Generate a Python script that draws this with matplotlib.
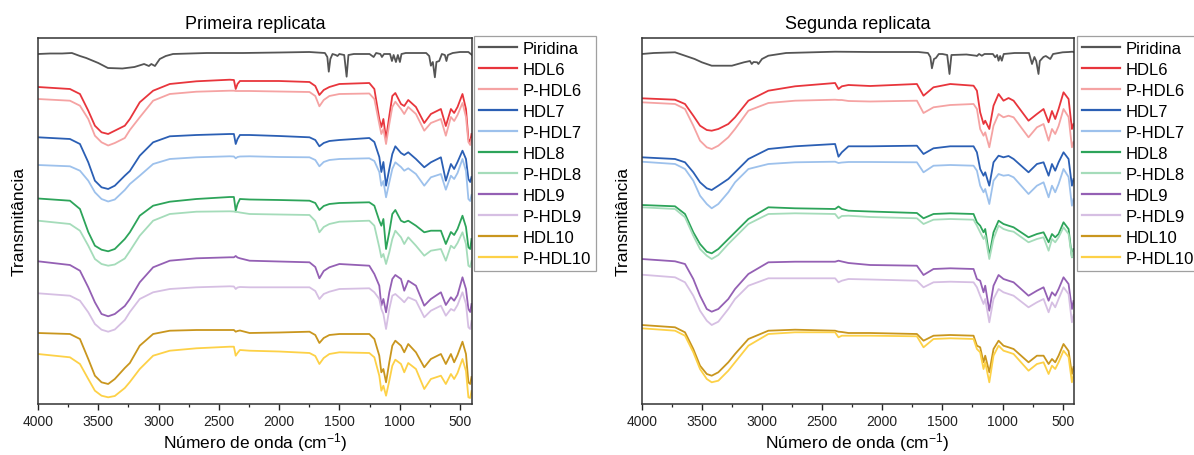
import matplotlib
matplotlib.use("Agg")
import matplotlib.pyplot as plt
from matplotlib.ticker import MultipleLocator

plt.rcParams["font.family"] = ["Liberation Sans", "DejaVu Sans"]
plt.rcParams["mathtext.default"] = "regular"

# ---------------- first replicate ----------------
wn_pyr_1 = [4000, 3900, 3800, 3719, 3652, 3600, 3500, 3420, 3300, 3200,
            3120, 3080, 3060, 3030, 2990, 2940, 2880, 2600, 2300, 2000,
            1750, 1620, 1600, 1588, 1575, 1557, 1530, 1516, 1500, 1460,
            1440, 1425, 1380, 1250, 1216, 1195, 1160, 1147, 1130, 1080,
            1064, 1050, 1031, 1015, 998, 985, 950, 880, 780, 755,
            741, 725, 708, 695, 672, 650, 625, 612, 600, 560,
            500, 430, 410, 400]
piridina_1 = [350, 350.5, 350.5, 351, 348, 346, 341, 336, 335.5, 337,
              340, 338, 340, 338, 345, 348, 350, 351, 351, 351.5,
              352, 351, 347, 332.3, 345, 350, 349, 348, 350, 349,
              327.3, 349, 350, 350, 347, 351, 350, 347, 350, 350,
              343, 349, 342, 349, 342, 350, 351, 351, 351, 348,
              338.3, 342, 326.7, 342, 343, 350, 349, 343, 349, 351,
              352, 352, 350, 349]

wn_1 = [4000, 3735, 3652, 3583, 3528, 3473, 3418, 3363, 3280, 3238,
        3156, 3045, 2907, 2686, 2410, 2375, 2360, 2345, 2325, 2245,
        2000, 1748, 1700, 1666, 1630, 1583, 1500, 1252, 1210, 1169,
        1152, 1135, 1113, 1086, 1061, 1036, 989, 962, 929, 865,
        796, 741, 658, 617, 575, 548, 520, 479, 450, 430,
        415, 404]

hdl6_1 = [317, 315, 310, 293.3, 278.3, 271.7, 270, 273.3, 278.3, 285,
          301.7, 313.3, 320, 322.7, 324.3, 324, 315, 320, 323, 323,
          323, 322, 318, 309, 314, 317, 320, 321, 315, 285,
          277, 285, 265, 288, 308, 311, 300, 298, 304, 297,
          281, 290, 295, 278, 295, 291, 297, 310, 295, 265,
          262, 270]
p_hdl6_1 = [305, 303.3, 298.3, 285, 268.3, 261.7, 258.5, 261, 266, 274,
            286.7, 303.3, 310, 312.3, 313.3, 313.3, 313, 313, 313, 313,
            312.5, 312, 308, 297.7, 304, 308, 310, 310.5, 305, 280,
            270, 275, 260, 280, 297, 302.3, 295, 290, 297, 290,
            273.3, 281, 285, 268.3, 287, 283, 289, 301, 287, 262,
            259, 265]
hdl7_1 = [266.7, 265, 260, 241.7, 223.3, 216.7, 215, 218.3, 228.3, 233,
          248.3, 261.7, 267.7, 269, 270, 270, 260, 265, 269, 269,
          268, 266.7, 264, 257.7, 261, 263, 264, 266, 262, 247,
          232, 242, 218.3, 235, 250, 257.7, 251, 249, 251.7, 245,
          236.7, 241.7, 246.7, 223.3, 240, 235, 242, 253.3, 245, 225,
          222, 227]
p_hdl7_1 = [239, 237.7, 233.3, 223.3, 211.7, 205, 202.5, 204.5, 214, 220,
            228.3, 240, 245, 246.7, 247.7, 247.5, 245.7, 247, 247.5, 247.7,
            247, 246.7, 244, 237.7, 242, 244, 245, 245.7, 243, 232,
            218.3, 223, 206.7, 221.7, 235, 241.7, 237, 233.3, 235.7, 230,
            218.3, 226.7, 230, 214.3, 228.3, 225, 231, 245, 233, 205,
            203, 209]
hdl8_1 = [205.5, 203.3, 195, 172, 158.3, 154.3, 152.7, 155, 165, 171.7,
          188.3, 198.3, 202.3, 205, 207, 207, 193.3, 200, 205, 204.5,
          204, 203.3, 201, 194, 198, 200, 201, 201.7, 198.3, 183.3,
          178.3, 185, 155, 172, 190, 194, 183.3, 181.7, 183.3, 178.3,
          171.7, 173.3, 173.3, 160, 172, 169, 175, 188.3, 177, 156.7,
          155, 165]
p_hdl8_1 = [183.3, 180, 173.3, 158.3, 145, 140, 138.3, 139.5, 145.5, 153,
            168.3, 183.3, 190, 192.3, 192.7, 192.5, 192, 192, 191.5, 190,
            189.5, 189, 183, 171.7, 177, 180, 182.3, 183.3, 178.3, 156.7,
            146.7, 150, 140, 151.7, 165, 173.3, 166.7, 160, 166.7, 158.3,
            148.3, 153.3, 155, 143.3, 158.3, 155.7, 161, 171.7, 160, 138.3,
            137, 143]
hdl9_1 = [142.7, 139, 133.3, 116.7, 101.7, 90, 87.7, 90, 98, 105,
          121.7, 136.7, 143.3, 145.7, 146.7, 146.7, 148, 146.5, 145.7, 143.3,
          142.5, 141.7, 137, 125.7, 133, 136.7, 140, 138.3, 130, 118.3,
          98.3, 105, 91.7, 111.7, 125, 129, 125, 113.3, 123.3, 118.3,
          98.3, 105, 111.7, 99, 106.7, 103.3, 109, 126.7, 115, 95,
          92, 100]
p_hdl9_1 = [110.7, 108.3, 103.3, 91.7, 80, 74.3, 72.3, 74.5, 84, 92,
            105, 111.7, 115, 116.7, 117.7, 117.5, 115, 116.5, 117, 116.7,
            116.7, 116.7, 113, 105, 110, 112.3, 115, 115.7, 111.7, 105,
            95, 90, 75, 95, 108.3, 110, 105, 101.7, 106.7, 103.3,
            86.7, 93.3, 98.3, 88.3, 95, 93.3, 99, 111.7, 100, 76.7,
            75, 83]
hdl10_1 = [71, 70, 65, 45, 28.3, 21.7, 20, 25, 36, 41,
           58.3, 70, 73.3, 74, 74, 74, 72.3, 73, 73.5, 71,
           71.5, 72.3, 69, 61, 66, 69, 70, 70, 65, 48.3,
           31.7, 35, 21.7, 41.7, 58.3, 63.3, 58.3, 51.7, 60, 51.7,
           36.7, 45, 50, 40, 50, 41.7, 49, 62.3, 50, 21.7,
           20, 27]
p_hdl10_1 = [50, 46.7, 40, 25, 13.3, 8.3, 6.7, 8, 16, 22,
             35, 48.3, 53.3, 55.7, 57.3, 57.3, 48.3, 51, 54, 53.3,
             52.5, 51, 48, 40, 46, 50, 51.7, 51, 46.7, 28.3,
             13.3, 18.3, 8.3, 23.3, 38.3, 44.3, 40, 31.7, 41, 35,
             15, 25, 28.3, 20, 30, 25, 31, 45, 33, 6.7,
             6, 13]

# ---------------- second replicate ----------------
wn_pyr_2 = [4000, 3900, 3723, 3640, 3560, 3500, 3418, 3250, 3150, 3100,
            3085, 3070, 3040, 3030, 3000, 2947, 2800, 2392, 2100, 1700,
            1620, 1600, 1587, 1570, 1554, 1530, 1500, 1460, 1441, 1425,
            1300, 1220, 1213, 1195, 1172, 1150, 1080, 1061, 1045, 1033,
            1020, 1006, 990, 900, 780, 755, 735, 720, 701, 690,
            660, 640, 603, 580, 500, 450, 420, 410]
piridina_2 = [350, 351, 351.7, 348.3, 345, 341.7, 338.3, 338.3, 341.7, 343,
              340, 342, 341.7, 340, 345, 348.3, 351, 352.3, 352, 352,
              351, 347, 335.7, 345, 346, 350, 350, 349, 330, 349,
              349.5, 348.3, 348, 350, 348.3, 350, 350, 346.7, 349, 343.3,
              348, 343.3, 350, 351, 351, 340, 347, 343, 330, 343,
              347, 348, 345, 350, 351.7, 352, 352.3, 352]

wn_2 = [4000, 3723, 3640, 3571, 3515, 3459, 3418, 3363, 3280, 3224,
        3113, 2947, 2725, 2392, 2364, 2336, 2281, 2101, 1712, 1657,
        1574, 1435, 1241, 1213, 1186, 1158, 1144, 1110, 1075, 1033,
        992, 950, 908, 784, 714, 659, 617, 589, 562, 534,
        493, 451, 423, 410]

hdl6_2 = [305.7, 304.3, 300, 288.3, 278.3, 274, 273.3, 275, 280, 286.7,
          303.3, 313.3, 317.7, 321, 315, 317.7, 319, 318, 320, 308.3,
          316.7, 320, 318.3, 313.3, 291.7, 280, 283.3, 275, 298.3, 310,
          303.3, 306, 303.3, 283.3, 290, 295, 281.7, 293, 285, 295,
          311.7, 305, 275, 280]
p_hdl6_2 = [301.7, 300, 295, 278.3, 263.3, 256.7, 255, 258.3, 266.7, 275,
            293.3, 301, 303.3, 304.3, 304, 304, 303, 302.5, 303.3, 291,
            296.7, 299, 300, 295, 275, 268.3, 271.7, 256.7, 278.3, 290,
            286.7, 288.3, 286.7, 266.7, 276.7, 280, 263.3, 275, 270, 278,
            295, 287, 256.7, 262]
hdl7_2 = [246.7, 245, 241.7, 231.7, 221.7, 215.7, 214, 218.3, 225, 231.7,
          245, 255, 257.7, 260, 247.3, 251.7, 257.7, 257.7, 258.3, 250,
          255.7, 257.7, 257.7, 251.7, 235, 228.3, 231.7, 218.3, 241.7, 248.3,
          246.7, 248, 245, 231.7, 240, 241.7, 228.3, 240, 233.3, 241.7,
          251.7, 245, 218.3, 225]
p_hdl7_2 = [242.3, 240, 235, 223.3, 208.3, 200, 195.7, 200, 211.7, 221.7,
            235, 240, 241.7, 242.3, 241, 241.5, 242, 242, 241.7, 231.7,
            238.3, 239, 238.3, 233.3, 218.3, 211.7, 215, 200, 223.3, 230,
            228.3, 229, 226.7, 210, 218.3, 221.7, 206.7, 218.3, 211.7, 220,
            235, 227, 198.3, 205]
hdl8_2 = [199, 197.7, 190, 171.7, 160, 152.3, 150.7, 155, 165, 171.7,
          185, 196.7, 195.7, 195, 197.5, 195, 193.3, 192.5, 191, 185.7,
          190, 190.7, 190, 181.7, 178.3, 171.7, 175, 148, 171.7, 183.3,
          180, 178.3, 176.7, 166.7, 170, 171.7, 161.7, 170, 166.7, 170,
          181.7, 175, 146.7, 155]
p_hdl8_2 = [196.7, 195, 186.7, 168.3, 155, 148.3, 145, 149, 160, 166.7,
            180, 190, 190.7, 190, 185.7, 188, 188.3, 187, 185.7, 180,
            184.3, 185, 184.3, 178.3, 171.7, 165, 168.3, 145, 165, 178.3,
            175, 173.3, 172.3, 161.7, 165, 166.7, 153.3, 165, 161.7, 166.7,
            176.7, 170, 146.7, 153]
hdl9_2 = [145, 142.7, 140, 125, 108.3, 95, 92.3, 95, 105, 115,
          130, 141.7, 142.3, 142.3, 143.3, 142.5, 141, 139, 138.3, 129,
          135, 135.7, 135, 125, 123.3, 111.7, 118.3, 93.3, 118.3, 129,
          125, 123.3, 121.7, 108.3, 113.3, 116.7, 103.3, 111.7, 108.3, 115,
          126.7, 120, 95, 103]
p_hdl9_2 = [129.3, 126.7, 121.7, 108.3, 93.3, 83.3, 79, 82.3, 95, 105,
            118.3, 125.7, 125.7, 125.7, 121.7, 123.3, 125, 124.5, 123.3, 116.7,
            121.7, 122.3, 121.7, 116.7, 108.3, 100, 105, 81.7, 105, 115,
            111.7, 110, 108.3, 96.7, 101.7, 105, 91.7, 101.7, 96.7, 105,
            116.7, 110, 81.7, 89]
hdl10_2 = [79, 76.7, 71.7, 55, 38.3, 30, 28.3, 31.7, 41.7, 50,
           65, 73.3, 74.3, 73.3, 72.3, 72, 71, 71, 70, 63.3,
           68.3, 69, 68.3, 58.3, 56.7, 41.7, 48.3, 31.7, 55, 63.3,
           58.3, 56.7, 55, 41.7, 48.3, 48.3, 40, 45, 41.7, 48.3,
           60, 53, 30, 37]
p_hdl10_2 = [75.7, 73.3, 68.3, 51.7, 35, 25, 21.7, 23.3, 33.3, 41.7,
             58.3, 70, 71.7, 71.7, 66.7, 68.3, 68.3, 68.3, 67.7, 56.7,
             65, 65.7, 65, 55, 51.7, 35, 41.7, 21.7, 48.3, 58.3,
             53.3, 51.7, 50, 33.3, 40, 41.7, 30, 38.3, 35, 41.7,
             53.3, 47, 21.7, 29]

labels = ["Piridina", "HDL6", "P-HDL6", "HDL7", "P-HDL7", "HDL8", "P-HDL8",
          "HDL9", "P-HDL9", "HDL10", "P-HDL10"]
colors = ["#555555", "#e8353c", "#f5a3a3", "#2b5fb4", "#9dc1ec",
          "#2da45a", "#a5dcba", "#9460b4", "#d6bfe3", "#c9961e", "#fdd147"]

panels = [
    ("Primeira replicata", 400,
     [(wn_pyr_1, piridina_1), (wn_1, hdl6_1), (wn_1, p_hdl6_1), (wn_1, hdl7_1),
      (wn_1, p_hdl7_1), (wn_1, hdl8_1), (wn_1, p_hdl8_1), (wn_1, hdl9_1),
      (wn_1, p_hdl9_1), (wn_1, hdl10_1), (wn_1, p_hdl10_1)]),
    ("Segunda replicata", 410,
     [(wn_pyr_2, piridina_2), (wn_2, hdl6_2), (wn_2, p_hdl6_2), (wn_2, hdl7_2),
      (wn_2, p_hdl7_2), (wn_2, hdl8_2), (wn_2, p_hdl8_2), (wn_2, hdl9_2),
      (wn_2, p_hdl9_2), (wn_2, hdl10_2), (wn_2, p_hdl10_2)]),
]

W, H = 1194, 456
fig = plt.figure(figsize=(W / 100, H / 100), dpi=100)
ax_boxes = [(38, 39, 472, 405), (641.7, 39, 1073.5, 405)]
legend_x = [474, 1077]

for (title, xmin, series), (x0, y0, x1, y1), lx in zip(panels, ax_boxes, legend_x):
    ax = fig.add_axes([x0 / W, 1 - y1 / H, (x1 - x0) / W, (y1 - y0) / H])
    for (wn, vals), lab, col in zip(series, labels, colors):
        ax.plot(wn, vals, color=col, lw=1.3, label=lab, solid_joinstyle="round")
    ax.set_xlim(4000, xmin)
    ax.set_ylim(0, 366)
    ax.xaxis.set_major_locator(MultipleLocator(500))
    ax.xaxis.set_minor_locator(MultipleLocator(250))
    ax.tick_params(axis="x", which="major", direction="out", length=4,
                   width=1, labelsize=10, pad=3, colors="#222222")
    ax.tick_params(axis="x", which="minor", direction="out", length=2.5,
                   width=0.9, colors="#222222")
    ax.tick_params(axis="y", left=False, labelleft=False)
    for sp in ax.spines.values():
        sp.set_color("#333333")
        sp.set_linewidth(1.1)
    ax.set_title(title, fontsize=13, pad=7)
    ax.set_xlabel("Número de onda (cm$^{-1}$)", fontsize=12.5, labelpad=1.5)
    ax.set_ylabel("Transmitância", fontsize=12.5, labelpad=8)
    leg = fig.legend(*ax.get_legend_handles_labels(), loc="upper left",
                     bbox_to_anchor=(lx / W, 1 - 37 / H), fontsize=12,
                     frameon=True, fancybox=False, handlelength=2.3,
                     handletextpad=0.3, labelspacing=0.36, borderpad=0.3,
                     borderaxespad=0)
    leg.get_frame().set_edgecolor("#888888")
    leg.get_frame().set_linewidth(0.9)
    for line in leg.get_lines():
        line.set_linewidth(1.6)

fig.savefig("out.png", dpi=100)
